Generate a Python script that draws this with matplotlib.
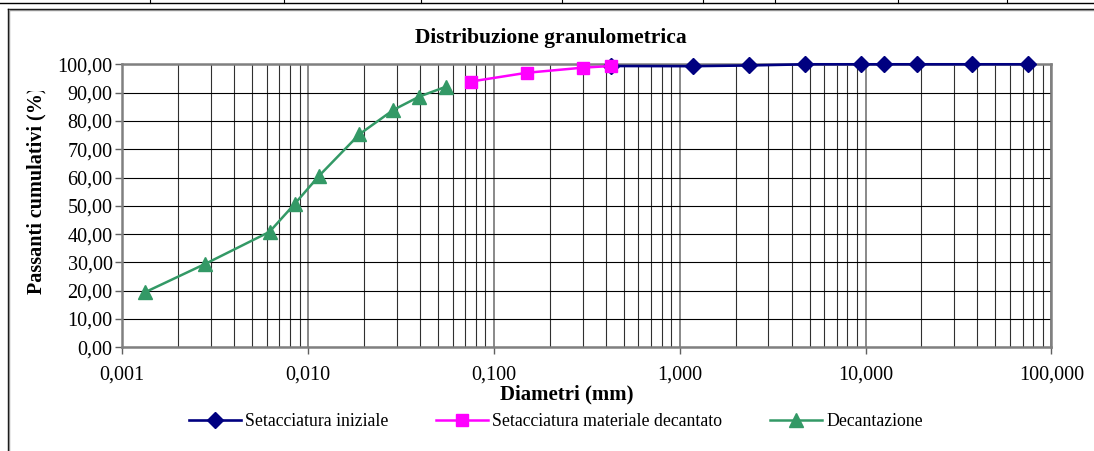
# -*- coding: utf-8 -*-
# Distribuzione granulometrica - curva granulometrica (scala log)
import matplotlib
matplotlib.use("Agg")
import matplotlib.pyplot as plt
from matplotlib.lines import Line2D
from matplotlib.ticker import FixedLocator, FuncFormatter, LogLocator, NullFormatter
from matplotlib.transforms import Bbox, TransformedBbox

plt.rcParams['font.family'] = ['Liberation Serif', 'DejaVu Serif']

# ── dati ─────────────────────────────────────────────────────────────────
# Setacciatura iniziale (mm, % passante)
d_iniz = [0.425, 1.18, 2.36, 4.75, 9.5, 12.5, 19.0, 37.5, 75.0]
p_iniz = [99.4, 99.35, 99.6, 100.0, 100.0, 100.0, 100.0, 100.0, 100.0]

# Setacciatura materiale decantato
d_dec = [0.075, 0.150, 0.300, 0.425]
p_dec = [93.9, 97.0, 98.8, 99.4]

# Decantazione (sedimentazione)
d_sed = [0.00133, 0.00280, 0.0062, 0.0085, 0.01146, 0.0189, 0.0288, 0.0397, 0.0553]
p_sed = [19.5, 29.5, 40.8, 50.8, 60.6, 75.3, 83.9, 88.6, 92.1]

x_ticks = [0.001, 0.01, 0.1, 1, 10, 100]
y_ticks = [0, 10, 20, 30, 40, 50, 60, 70, 80, 90, 100]

# ── figura ───────────────────────────────────────────────────────────────
W, H = 1094, 451
fig = plt.figure(figsize=(W / 100, H / 100), dpi=100)
ax = fig.add_axes([122.3 / W, 1 - 347.3 / H, 929 / W, 283 / H])

ax.plot(d_iniz, p_iniz, color="#000080", lw=1.9, marker="D", ms=8.5,
        label="Setacciatura iniziale", zorder=3, clip_on=False)
ax.plot(d_dec, p_dec, color="#FF00FF", lw=1.8, marker="s", ms=9,
        label="Setacciatura materiale decantato", zorder=4, clip_on=False)
ax.plot(d_sed, p_sed, color="#339966", lw=1.8, marker="^", ms=10,
        label="Decantazione", zorder=5, clip_on=False)

ax.set_xscale("log")
ax.set_xlim(0.001, 100)
ax.set_ylim(0, 100)

ax.xaxis.set_major_locator(FixedLocator(x_ticks))
ax.xaxis.set_minor_locator(LogLocator(base=10, subs=range(2, 10), numticks=50))
ax.xaxis.set_minor_formatter(NullFormatter())
ax.xaxis.set_major_formatter(FuncFormatter(
    lambda v, p: ("%.3f" % v).replace(".", ",")))
ax.yaxis.set_major_locator(FixedLocator(y_ticks))
ax.yaxis.set_major_formatter(FuncFormatter(
    lambda v, p: ("%.2f" % v).replace(".", ",")))

# griglia
ax.grid(True, which="major", axis="y", color="black", lw=0.8)
ax.grid(True, which="major", axis="x", color="#808080", lw=1.3)
ax.grid(True, which="minor", axis="x", color="#303030", lw=0.8)
ax.set_axisbelow(True)

for s in ax.spines.values():
    s.set_color("#808080")
    s.set_linewidth(1.8)

ax.tick_params(axis="both", which="major", direction="out", length=5,
               width=1, color="#606060", labelsize=14.5, colors="black")
ax.tick_params(axis="x", which="minor", length=0)
ax.tick_params(axis="x", which="major", pad=8)
ax.tick_params(axis="y", which="major", pad=2)

# titoli
fig.text(551 / W, 1 - 38 / H, "Distribuzione granulometrica", ha="center",
         va="center", fontsize=15.5, fontweight="bold")
fig.text(567 / W, 1 - 394 / H, "Diametri (mm)", ha="center", va="center",
         fontsize=15, fontweight="bold")
ylab = fig.text(36 / W, 1 - 190 / H, "Passanti cumulativi (%)", ha="center",
                va="center", rotation=90, fontsize=14.5, fontweight="bold")
ylab.set_clip_box(TransformedBbox(Bbox([[0, 0], [1, 1 - 91 / H]]), fig.transFigure))
ylab.set_clip_on(True)

# legenda
fig.legend(loc="center", bbox_to_anchor=(556 / W, 1 - 422 / H), ncol=3,
           frameon=False, fontsize=12.8, handlelength=2.9, handletextpad=0.25,
           columnspacing=2.7)

# bordi del foglio / area grafico
def fline(xs, ys, **kw):
    fig.add_artist(Line2D([x / W for x in xs], [1 - y / H for y in ys],
                          transform=fig.transFigure, **kw))

fline([0, W], [3, 3], color="black", lw=1)
for xv in [150, 284, 421, 562, 703, 775, 898, 1007]:
    fline([xv, xv], [0, 3], color="black", lw=0.8)
fline([8, W], [8.5, 8.5], color="black", lw=1)
fline([9, W], [10, 10], color="#909090", lw=1)
fline([7.5, 7.5], [8.5, H], color="black", lw=1)
fline([9, 9], [10, H], color="#909090", lw=1)

fig.savefig("out.png", dpi=100)
